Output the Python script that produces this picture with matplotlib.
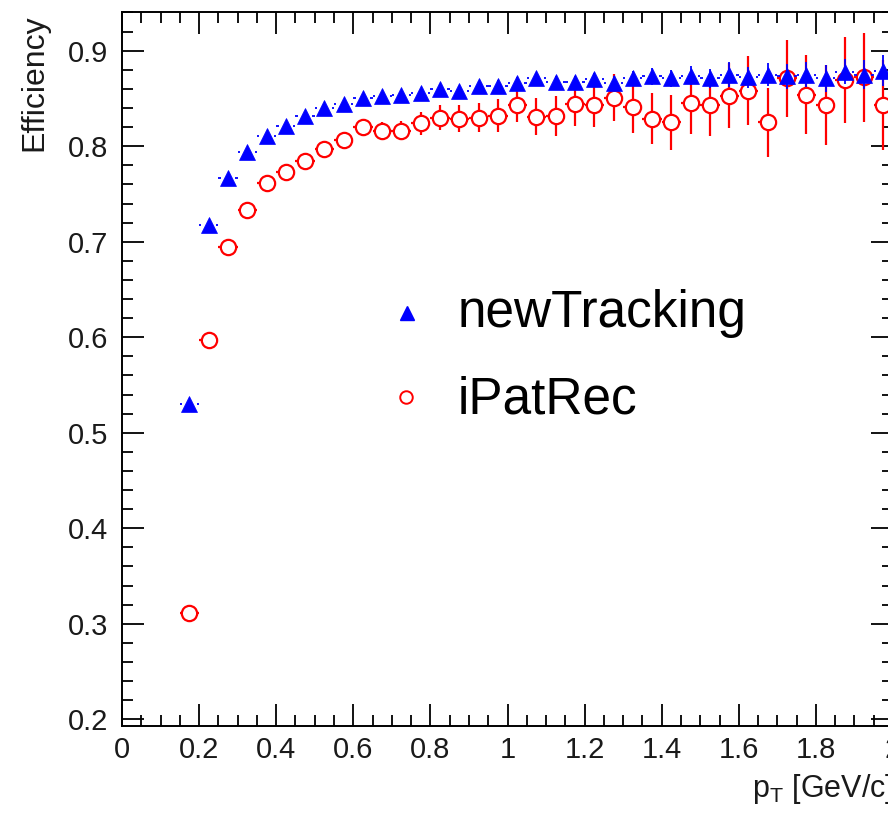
import numpy as np
import matplotlib
matplotlib.use('Agg')
import matplotlib.pyplot as plt
from matplotlib.lines import Line2D
from matplotlib.ticker import MultipleLocator, FuncFormatter

plt.rcParams['font.family'] = ['Liberation Sans', 'DejaVu Sans']
plt.rcParams['mathtext.fontset'] = 'custom'
plt.rcParams['mathtext.rm'] = 'Liberation Sans'
plt.rcParams['mathtext.it'] = 'Liberation Sans:italic'

# bin centres in pT (GeV/c), bin half width 0.025
pt = [0.175, 0.225, 0.275, 0.325, 0.375, 0.425, 0.475, 0.525, 0.575, 0.625,
      0.675, 0.725, 0.775, 0.825, 0.875, 0.925, 0.975, 1.025, 1.075, 1.125,
      1.175, 1.225, 1.275, 1.325, 1.375, 1.425, 1.475, 1.525, 1.575, 1.625,
      1.675, 1.725, 1.775, 1.825, 1.875, 1.925, 1.975]
bin_half = 0.025

# newTracking efficiency
eff_new = [0.530, 0.717, 0.767, 0.794, 0.811, 0.821, 0.832, 0.840, 0.844, 0.850,
           0.853, 0.854, 0.856, 0.860, 0.858, 0.863, 0.863, 0.866, 0.871, 0.867,
           0.867, 0.870, 0.866, 0.871, 0.873, 0.871, 0.874, 0.871, 0.875, 0.872,
           0.875, 0.873, 0.875, 0.871, 0.878, 0.875, 0.879]
err_new = [0.003, 0.003, 0.003, 0.003, 0.003, 0.003, 0.003, 0.003, 0.003, 0.004,
           0.004, 0.004, 0.004, 0.005, 0.005, 0.005, 0.006, 0.006, 0.006, 0.007,
           0.007, 0.007, 0.008, 0.008, 0.009, 0.009, 0.010, 0.010, 0.013, 0.011,
           0.012, 0.013, 0.013, 0.014, 0.013, 0.015, 0.016]

# iPatRec efficiency
eff_ipat = [0.311, 0.597, 0.695, 0.733, 0.761, 0.773, 0.785, 0.797, 0.807, 0.820,
            0.816, 0.816, 0.824, 0.830, 0.829, 0.830, 0.832, 0.843, 0.831, 0.832,
            0.844, 0.843, 0.851, 0.841, 0.829, 0.825, 0.845, 0.843, 0.853, 0.858,
            0.825, 0.871, 0.854, 0.843, 0.869, 0.872, 0.843]
err_ipat = [0.004, 0.005, 0.005, 0.005, 0.005, 0.006, 0.006, 0.007, 0.007, 0.009,
            0.009, 0.010, 0.012, 0.013, 0.014, 0.015, 0.017, 0.018, 0.019, 0.021,
            0.023, 0.023, 0.025, 0.027, 0.027, 0.029, 0.032, 0.032, 0.034, 0.036,
            0.036, 0.040, 0.041, 0.042, 0.045, 0.047, 0.047]

pt = np.array(pt)
eff_new = np.array(eff_new)

W, H = 888, 813
fig = plt.figure(figsize=(W / 100, H / 100), dpi=100)
# ROOT frame: right edge sits just outside the picture
ax = fig.add_axes([122 / W, 87 / H, 771 / W, 713.5 / H])

ax.errorbar(pt, eff_ipat, yerr=err_ipat, xerr=bin_half, fmt='o', color='red',
            mfc='white', mec='red', ms=11, mew=1.6, elinewidth=1.6, capsize=0,
            zorder=2)

# x error stubs for the triangles (ROOT starts them at the marker edge)
ax.hlines(eff_new, pt - bin_half, pt - 0.019, color='blue', lw=1.3, zorder=3)
ax.hlines(eff_new, pt + 0.019, pt + bin_half, color='blue', lw=1.3, zorder=3)
ax.errorbar(pt, eff_new, yerr=err_new, fmt='^', color='blue', ms=11, mew=0.5,
            elinewidth=1.3, capsize=0, zorder=4)

ax.set_xlim(0, 2)
ax.set_ylim(0.193, 0.940)

ax.xaxis.set_major_locator(MultipleLocator(0.2))
ax.xaxis.set_minor_locator(MultipleLocator(0.05))
ax.yaxis.set_major_locator(MultipleLocator(0.1))
ax.yaxis.set_minor_locator(MultipleLocator(0.02))
fmt = FuncFormatter(lambda v, p: '%g' % round(v, 3))
ax.xaxis.set_major_formatter(fmt)
ax.yaxis.set_major_formatter(fmt)

ax.tick_params(which='both', direction='in', top=True, right=True, width=1.3)
ax.tick_params(which='major', length=16, labelsize=21, labelcolor='#1a1a1a')
ax.tick_params(which='minor', length=8)
ax.tick_params(axis='y', pad=10)
ax.tick_params(axis='x', pad=7)
for s in ax.spines.values():
    s.set_linewidth(1.4)

ax.set_ylabel('Efficiency', fontsize=23, loc='top', color='#1a1a1a')
ax.yaxis.set_label_coords(-0.094, 0.997)
ax.set_xlabel('p$_\\mathregular{T}$ [GeV/c]', fontsize=22, loc='right', color='#1a1a1a')
ax.xaxis.set_label_coords(1.0, -0.064)

# legend, drawn by hand like the ROOT TLegend
fig.add_artist(Line2D([406.7 / W], [1 - 313 / H], marker='^', color='blue',
                      ms=9.5, ls='none', transform=fig.transFigure))
fig.text(458 / W, 1 - 326.7 / H, 'newTracking', fontsize=37, va='baseline', ha='left')
fig.add_artist(Line2D([406 / W], [1 - 396.7 / H], marker='o', mfc='white',
                      mec='red', ms=9, mew=1.4, ls='none', transform=fig.transFigure))
fig.text(458 / W, 1 - 413 / H, 'iPatRec', fontsize=37, va='baseline', ha='left')

fig.savefig('out.png', dpi=100)
